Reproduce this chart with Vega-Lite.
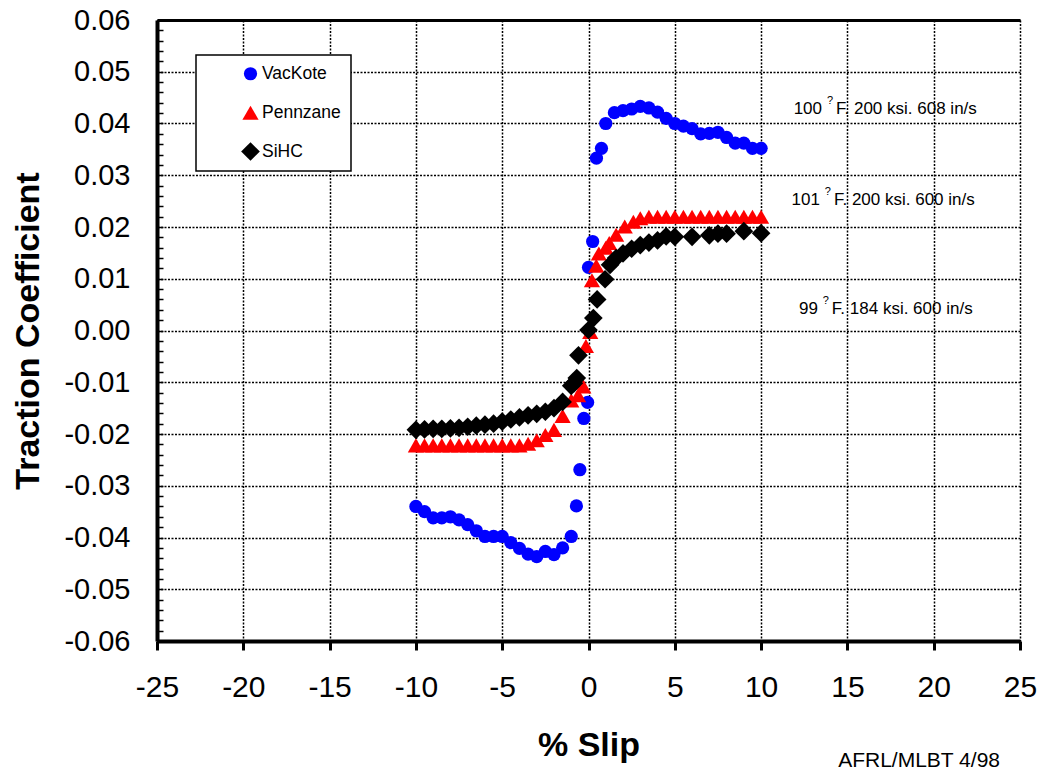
{
 "$schema": "https://vega.github.io/schema/vega-lite/v6.json",
 "width": 863, "height": 621,
 "autosize": {"type": "none"},
 "padding": {"left": 157, "top": 20, "right": 24, "bottom": 133},
 "background": "white",
 "config": {"font": "Liberation Sans", "view": {"stroke": null},
   "axis": {"labelColor": "black", "titleColor": "black", "domainColor": "black", "tickColor": "black", "labelFont": "Liberation Sans", "titleFont": "Liberation Sans"},
   "legend": {"strokeWidth": 1.5}},
 "title": {"text": "AFRL/MLBT 4/98", "orient": "bottom", "anchor": "end", "frame": "group", "offset": -1, "baseline": "middle", "fontSize": 21, "fontWeight": "normal", "font": "Liberation Sans", "color": "black", "dx": -20},
 "datasets": {
  "main": [
   {"series":"VacKote","slip":-10,"tc":-0.034},{"series":"VacKote","slip":-9.5,"tc":-0.035},{"series":"VacKote","slip":-9,"tc":-0.0362},{"series":"VacKote","slip":-8.5,"tc":-0.0362},{"series":"VacKote","slip":-8,"tc":-0.036},{"series":"VacKote","slip":-7.5,"tc":-0.0366},{"series":"VacKote","slip":-7,"tc":-0.0375},{"series":"VacKote","slip":-6.5,"tc":-0.0387},{"series":"VacKote","slip":-6,"tc":-0.0398},{"series":"VacKote","slip":-5.5,"tc":-0.0398},{"series":"VacKote","slip":-5,"tc":-0.0398},{"series":"VacKote","slip":-4.5,"tc":-0.041},{"series":"VacKote","slip":-4,"tc":-0.0421},{"series":"VacKote","slip":-3.5,"tc":-0.0432},{"series":"VacKote","slip":-3,"tc":-0.0437},{"series":"VacKote","slip":-2.5,"tc":-0.0427},{"series":"VacKote","slip":-2,"tc":-0.0433},{"series":"VacKote","slip":-1.5,"tc":-0.042},{"series":"VacKote","slip":-1,"tc":-0.0398},{"series":"VacKote","slip":-0.7,"tc":-0.0339},{"series":"VacKote","slip":-0.5,"tc":-0.0269},{"series":"VacKote","slip":-0.27,"tc":-0.017},{"series":"VacKote","slip":-0.05,"tc":-0.0139},{"series":"VacKote","slip":0,"tc":0.0122},{"series":"VacKote","slip":0.24,"tc":0.0172},{"series":"VacKote","slip":0.46,"tc":0.0333},{"series":"VacKote","slip":0.75,"tc":0.0352},{"series":"VacKote","slip":1,"tc":0.04},{"series":"VacKote","slip":1.5,"tc":0.0421},{"series":"VacKote","slip":2,"tc":0.0425},{"series":"VacKote","slip":2.5,"tc":0.0428},{"series":"VacKote","slip":3,"tc":0.0433},{"series":"VacKote","slip":3.5,"tc":0.043},{"series":"VacKote","slip":4,"tc":0.0422},{"series":"VacKote","slip":4.5,"tc":0.041},{"series":"VacKote","slip":5,"tc":0.04},{"series":"VacKote","slip":5.5,"tc":0.0395},{"series":"VacKote","slip":6,"tc":0.039},{"series":"VacKote","slip":6.5,"tc":0.038},{"series":"VacKote","slip":7,"tc":0.0381},{"series":"VacKote","slip":7.5,"tc":0.0383},{"series":"VacKote","slip":8,"tc":0.0373},{"series":"VacKote","slip":8.5,"tc":0.0362},{"series":"VacKote","slip":9,"tc":0.0362},{"series":"VacKote","slip":9.5,"tc":0.0352},{"series":"VacKote","slip":10,"tc":0.0352},
   {"series":"Pennzane","slip":-10,"tc":-0.0222},{"series":"Pennzane","slip":-9.5,"tc":-0.0222},{"series":"Pennzane","slip":-9,"tc":-0.0222},{"series":"Pennzane","slip":-8.5,"tc":-0.0222},{"series":"Pennzane","slip":-8,"tc":-0.0222},{"series":"Pennzane","slip":-7.5,"tc":-0.0222},{"series":"Pennzane","slip":-7,"tc":-0.0222},{"series":"Pennzane","slip":-6.5,"tc":-0.0222},{"series":"Pennzane","slip":-6,"tc":-0.0222},{"series":"Pennzane","slip":-5.5,"tc":-0.0222},{"series":"Pennzane","slip":-5,"tc":-0.0222},{"series":"Pennzane","slip":-4.5,"tc":-0.0222},{"series":"Pennzane","slip":-4,"tc":-0.0222},{"series":"Pennzane","slip":-3.5,"tc":-0.0219},{"series":"Pennzane","slip":-3,"tc":-0.0212},{"series":"Pennzane","slip":-2.5,"tc":-0.0202},{"series":"Pennzane","slip":-2,"tc":-0.0192},{"series":"Pennzane","slip":-1.5,"tc":-0.0165},{"series":"Pennzane","slip":-1,"tc":-0.0135},{"series":"Pennzane","slip":-0.6,"tc":-0.0125},{"series":"Pennzane","slip":-0.3,"tc":-0.0108},{"series":"Pennzane","slip":-0.15,"tc":-0.003},{"series":"Pennzane","slip":0.1,"tc":-0.0003},{"series":"Pennzane","slip":0.2,"tc":0.0097},{"series":"Pennzane","slip":0.45,"tc":0.0125},{"series":"Pennzane","slip":0.6,"tc":0.0149},{"series":"Pennzane","slip":1,"tc":0.016},{"series":"Pennzane","slip":1.2,"tc":0.0169},{"series":"Pennzane","slip":1.6,"tc":0.0185},{"series":"Pennzane","slip":2.1,"tc":0.0201},{"series":"Pennzane","slip":2.6,"tc":0.021},{"series":"Pennzane","slip":3,"tc":0.0217},{"series":"Pennzane","slip":3.5,"tc":0.022},{"series":"Pennzane","slip":4,"tc":0.022},{"series":"Pennzane","slip":4.5,"tc":0.022},{"series":"Pennzane","slip":5,"tc":0.022},{"series":"Pennzane","slip":5.5,"tc":0.022},{"series":"Pennzane","slip":6,"tc":0.022},{"series":"Pennzane","slip":6.5,"tc":0.022},{"series":"Pennzane","slip":7,"tc":0.022},{"series":"Pennzane","slip":7.5,"tc":0.022},{"series":"Pennzane","slip":8,"tc":0.022},{"series":"Pennzane","slip":8.5,"tc":0.022},{"series":"Pennzane","slip":9,"tc":0.022},{"series":"Pennzane","slip":9.5,"tc":0.022},{"series":"Pennzane","slip":10,"tc":0.022},
   {"series":"SiHC","slip":-10,"tc":-0.0192},{"series":"SiHC","slip":-9.5,"tc":-0.0191},{"series":"SiHC","slip":-9,"tc":-0.019},{"series":"SiHC","slip":-8.5,"tc":-0.019},{"series":"SiHC","slip":-8,"tc":-0.0189},{"series":"SiHC","slip":-7.5,"tc":-0.0188},{"series":"SiHC","slip":-7,"tc":-0.0186},{"series":"SiHC","slip":-6.5,"tc":-0.0184},{"series":"SiHC","slip":-6,"tc":-0.0182},{"series":"SiHC","slip":-5.5,"tc":-0.018},{"series":"SiHC","slip":-5,"tc":-0.0176},{"series":"SiHC","slip":-4.5,"tc":-0.0172},{"series":"SiHC","slip":-4,"tc":-0.0168},{"series":"SiHC","slip":-3.5,"tc":-0.0164},{"series":"SiHC","slip":-3,"tc":-0.0161},{"series":"SiHC","slip":-2.5,"tc":-0.0157},{"series":"SiHC","slip":-2,"tc":-0.015},{"series":"SiHC","slip":-1.5,"tc":-0.0138},{"series":"SiHC","slip":-1,"tc":-0.0107},{"series":"SiHC","slip":-0.85,"tc":-0.0102},{"series":"SiHC","slip":-0.68,"tc":-0.0092},{"series":"SiHC","slip":-0.58,"tc":-0.0048},{"series":"SiHC","slip":0,"tc":0.0001},{"series":"SiHC","slip":0.28,"tc":0.0024},{"series":"SiHC","slip":0.5,"tc":0.006},{"series":"SiHC","slip":0.96,"tc":0.0099},{"series":"SiHC","slip":1.25,"tc":0.0127},{"series":"SiHC","slip":1.6,"tc":0.014},{"series":"SiHC","slip":2,"tc":0.0149},{"series":"SiHC","slip":2.5,"tc":0.0158},{"series":"SiHC","slip":3,"tc":0.0165},{"series":"SiHC","slip":3.5,"tc":0.017},{"series":"SiHC","slip":4,"tc":0.0174},{"series":"SiHC","slip":4.5,"tc":0.0182},{"series":"SiHC","slip":5,"tc":0.0181},{"series":"SiHC","slip":6,"tc":0.0181},{"series":"SiHC","slip":7,"tc":0.0184},{"series":"SiHC","slip":7.5,"tc":0.0187},{"series":"SiHC","slip":8,"tc":0.0187},{"series":"SiHC","slip":9,"tc":0.0192},{"series":"SiHC","slip":10,"tc":0.0188}
  ],
  "notes": [
   {"x": 14.34, "y": 0.0428, "num": "100", "rest": "F. 200 ksi. 608 in/s"},
   {"x": 14.22, "y": 0.0252, "num": "101", "rest": "F. 200 ksi. 600 in/s"},
   {"x": 14.1, "y": 0.00415, "num": "99", "rest": "F. 184 ksi. 600 in/s"}
  ]
 },
 "layer": [
  {
   "data": {"name": "main"},
   "mark": {"type": "point", "filled": true, "opacity": 1, "strokeWidth": 0},
   "encoding": {
    "x": {"field": "slip", "type": "quantitative", "scale": {"domain": [-25, 25], "nice": false, "zero": false},
      "axis": {"orient": "bottom", "title": "% Slip", "values": [-25,-20,-15,-10,-5,0,5,10,15,20,25], "labelExpr": "replace(format(datum.value, 'd'), '\u2212', '-')", "labelFontSize": 30, "labelFlush": false, "labelOverlap": false, "labelPadding": 22, "tickSize": 9, "tickWidth": 3, "domainWidth": 4, "grid": true, "gridColor": "black", "gridDash": [2, 1.5], "gridWidth": 1.5, "gridOpacity": 1, "titleFontSize": 34, "titleFontWeight": "bold", "titlePadding": 26}},
    "y": {"field": "tc", "type": "quantitative", "scale": {"domain": [-0.06, 0.06], "nice": false, "zero": false},
      "axis": {"orient": "left", "title": "Traction Coefficient", "values": [-0.06,-0.05,-0.04,-0.03,-0.02,-0.01,0,0.01,0.02,0.03,0.04,0.05,0.06], "labelExpr": "replace(format(datum.value, '.2f'), '\u2212', '-')", "labelFontSize": 29, "labelFlush": false, "labelOverlap": false, "labelPadding": 27, "ticks": false, "domainWidth": 4, "grid": true, "gridColor": "black", "gridDash": [2, 1.5], "gridWidth": 1.5, "gridOpacity": 1, "titleFontSize": 34, "titleFontWeight": "bold", "titlePadding": 18}},
    "color": {"field": "series", "type": "nominal", "scale": {"domain": ["VacKote", "Pennzane", "SiHC"], "range": ["#0000ff", "#ff0000", "#000000"]},
      "legend": {"title": null, "orient": "none", "legendX": 39, "legendY": 35, "padding": 10, "strokeColor": "black", "fillColor": "white", "labelFontSize": 17.5, "labelFont": "Liberation Sans", "labelColor": "black", "symbolSize": 170, "symbolOffset": 35, "labelOffset": 2, "rowPadding": 20, "labelExpr": "datum.label + '   '", "symbolOpacity": 1, "symbolStrokeWidth": 0}},
    "shape": {"field": "series", "type": "nominal", "scale": {"domain": ["VacKote", "Pennzane", "SiHC"], "range": ["circle", "triangle-up", "diamond"]},
      "legend": {"title": null, "orient": "none", "legendX": 39, "legendY": 35, "padding": 10, "strokeColor": "black", "fillColor": "white", "labelFontSize": 17.5, "labelFont": "Liberation Sans", "labelColor": "black", "symbolSize": 170, "symbolOffset": 35, "labelOffset": 2, "rowPadding": 20, "labelExpr": "datum.label + '   '", "symbolOpacity": 1, "symbolStrokeWidth": 0}},
    "size": {"field": "series", "type": "nominal", "scale": {"domain": ["VacKote", "Pennzane", "SiHC"], "range": [175, 350, 310]}, "legend": null}
   }
  },
  {
   "data": {"name": "notes"},
   "mark": {"type": "text", "align": "left", "baseline": "middle", "fontSize": 17, "font": "Liberation Sans", "color": "black"},
   "encoding": {
    "x": {"field": "x", "type": "quantitative", "scale": {"domain": [-25, 25], "nice": false, "zero": false},
      "axis": {"orient": "top", "title": null, "labels": false, "ticks": false, "grid": false, "domain": true, "domainWidth": 3}},
    "y": {"field": "y", "type": "quantitative", "scale": {"domain": [-0.06, 0.06], "nice": false, "zero": false},
      "axis": {"orient": "left", "title": null, "labels": false, "grid": false, "domain": false, "ticks": true, "tickSize": -6, "tickWidth": 1.5,
        "values": [-0.06,-0.058,-0.056,-0.054,-0.052,-0.05,-0.048,-0.046,-0.044,-0.042,-0.04,-0.038,-0.036,-0.034,-0.032,-0.03,-0.028,-0.026,-0.024,-0.022,-0.02,-0.018,-0.016,-0.014,-0.012,-0.01,-0.008,-0.006,-0.004,-0.002,0,0.002,0.004,0.006,0.008,0.01,0.012,0.014,0.016,0.018,0.02,0.022,0.024,0.026,0.028,0.03,0.032,0.034,0.036,0.038,0.04,0.042,0.044,0.046,0.048,0.05,0.052,0.054,0.056,0.058,0.06]}},
    "text": {"field": "rest"}
   }
  },
  {
   "data": {"name": "notes"},
   "mark": {"type": "text", "align": "right", "baseline": "middle", "dx": -14, "fontSize": 17, "font": "Liberation Sans", "color": "black"},
   "encoding": {
    "x": {"field": "x", "type": "quantitative", "scale": {"domain": [-25, 25], "nice": false, "zero": false}, "axis": null},
    "y": {"field": "y", "type": "quantitative", "scale": {"domain": [-0.06, 0.06], "nice": false, "zero": false}, "axis": null},
    "text": {"field": "num"}
   }
  },
  {
   "data": {"name": "notes"},
   "mark": {"type": "text", "align": "center", "baseline": "middle", "dx": -6, "dy": -8, "fontSize": 11, "font": "Liberation Sans", "color": "black"},
   "encoding": {
    "x": {"field": "x", "type": "quantitative", "scale": {"domain": [-25, 25], "nice": false, "zero": false}, "axis": null},
    "y": {"field": "y", "type": "quantitative", "scale": {"domain": [-0.06, 0.06], "nice": false, "zero": false}, "axis": null},
    "text": {"value": "?"}
   }
  }
 ],
 "resolve": {"axis": {"x": "independent", "y": "independent"}}
}
